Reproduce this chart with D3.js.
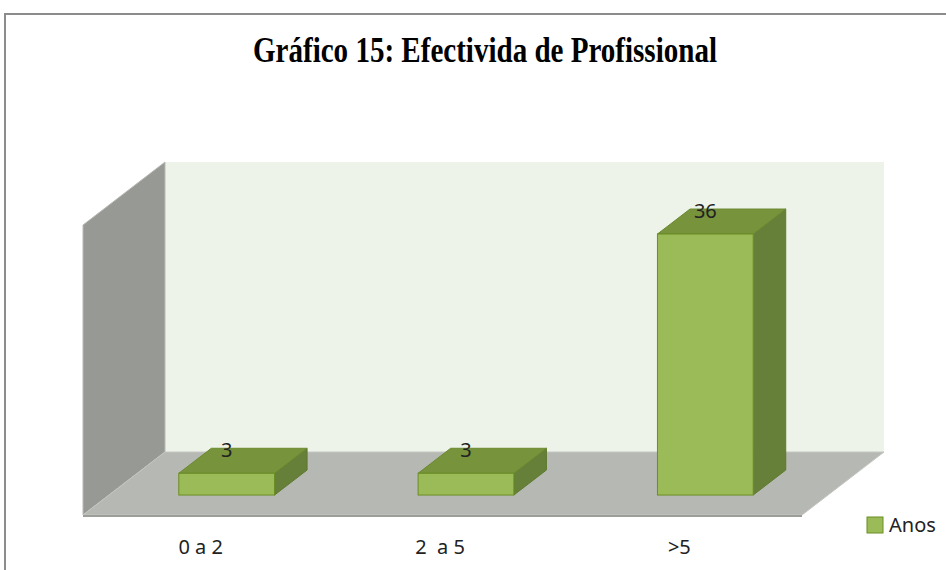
<!DOCTYPE html>
<html>
<head>
<meta charset="utf-8">
<script src="https://cdn.jsdelivr.net/npm/d3@7"></script>
<style>
  body { margin: 0; background: #fff; }
  text { font-family: "Noto Sans", sans-serif; }
</style>
</head>
<body>
<div id="chart"></div>
<script>
// chart data
var titleText = "Gráfico 15: Efectivida de Profissional";
var categories = ["0 a 2", "2  a 5", ">5"];
var values = [3, 3, 36];
var seriesName = "Anos";
var yDomain = [0, 40];

var width = 946, height = 570;

// 3d layout: front edge of floor and depth offset of back wall
var floor = {left: 83, right: 802, y: 515};
var depth = {dx: 82, dy: -63};
var barZ = [0.317, 0.714]; // bar front / back as fraction of depth

var xScale = d3.scaleBand().domain(categories).range([floor.left - 2, floor.right - 3])
   .paddingInner(0.6).paddingOuter(0.3);
var yScale = d3.scaleLinear().domain(yDomain).range([floor.y, floor.y - 290]);

// project (x, y on front plane, z in 0..1) to screen
function proj(x, y, z) {
   return [x + z * depth.dx, y + z * depth.dy];
}
function poly(pts) {
   return pts.map(function(p){ return p.join(","); }).join(" ");
}

var svg = d3.select("#chart").append("svg")
   .attr("width", width).attr("height", height);

// outer frame
svg.append("path")
   .attr("d", "M5," + height + " L5,14 L" + width + ",14")
   .attr("fill", "none").attr("stroke", "#8c8c8c").attr("stroke-width", 2);

// title
svg.append("text")
   .attr("x", 485).attr("y", 62)
   .attr("text-anchor", "middle")
   .attr("textLength", 464).attr("lengthAdjust", "spacingAndGlyphs")
   .style("font-family", "'Liberation Serif', serif")
   .style("font-weight", "bold").style("font-size", "35px")
   .attr("fill", "#000")
   .text(titleText);

var y0 = yScale(yDomain[0]), yTop = yScale(yDomain[1]);
var xL = floor.left, xR = floor.right;

// back wall
svg.append("polygon")
   .attr("points", poly([proj(xL, yTop, 1), proj(xR, yTop, 1), proj(xR, y0, 1), proj(xL, y0, 1)]))
   .attr("fill", "#eef3e9");

// left wall
svg.append("polygon")
   .attr("points", poly([proj(xL, yTop, 0), proj(xL, yTop, 1), proj(xL, y0, 1), proj(xL, y0, 0)]))
   .attr("fill", "#979995").attr("stroke", "#b9bbb7").attr("stroke-width", 1);

// floor
svg.append("polygon")
   .attr("points", poly([proj(xL, y0, 0), proj(xR, y0, 0), proj(xR, y0, 1), proj(xL, y0, 1)]))
   .attr("fill", "#b6b8b3").attr("stroke", "#c4c6c2").attr("stroke-width", 1);
svg.append("line")
   .attr("x1", xL).attr("x2", xR).attr("y1", y0 + 1).attr("y2", y0 + 1)
   .attr("stroke", "#9c9e9a").attr("stroke-width", 2);

// bars
var bars = svg.selectAll(".bar").data(values).enter()
   .append("g").attr("class", "bar");

bars.each(function(d, i) {
   var g = d3.select(this);
   var x0 = xScale(categories[i]), x1 = x0 + xScale.bandwidth();
   var yb = yScale(0), yt = yScale(d);
   var zf = barZ[0], zb = barZ[1];
   // side face
   g.append("polygon")
      .attr("points", poly([proj(x1, yt, zf), proj(x1, yt, zb), proj(x1, yb, zb), proj(x1, yb, zf)]))
      .attr("fill", "#66803a").attr("stroke", "#5d7a2c").attr("stroke-width", 1);
   // top face
   g.append("polygon")
      .attr("points", poly([proj(x0, yt, zf), proj(x0, yt, zb), proj(x1, yt, zb), proj(x1, yt, zf)]))
      .attr("fill", "#77933c").attr("stroke", "#6b8a30").attr("stroke-width", 1);
   // front face
   var f0 = proj(x0, yt, zf), f1 = proj(x1, yb, zf);
   g.append("rect")
      .attr("x", f0[0]).attr("y", f0[1])
      .attr("width", f1[0] - f0[0]).attr("height", f1[1] - f0[1])
      .attr("fill", "#9bbb59").attr("stroke", "#6b8e23").attr("stroke-width", 1);
   // value label
   g.append("text")
      .attr("x", (f0[0] + f1[0]) / 2).attr("y", f0[1] - 16)
      .attr("text-anchor", "middle")
      .style("font-size", "20px").attr("fill", "#222")
      .text(d);
});

// category labels
svg.selectAll(".cat").data(categories).enter()
   .append("text").attr("class", "cat")
   .attr("x", function(d){ return xScale(d) + xScale.bandwidth() / 2; })
   .attr("y", 554)
   .attr("text-anchor", "middle")
   .style("font-size", "20px").attr("fill", "#222")
   .style("white-space", "pre")
   .text(function(d){ return d; });

// legend
var legend = svg.append("g").attr("transform", "translate(867,517)");
legend.append("rect")
   .attr("width", 16).attr("height", 16)
   .attr("fill", "#9bbb59").attr("stroke", "#6b8e23");
legend.append("text")
   .attr("x", 22).attr("y", 15)
   .style("font-size", "20px").attr("fill", "#222")
   .text(seriesName);
</script>
</body>
</html>
